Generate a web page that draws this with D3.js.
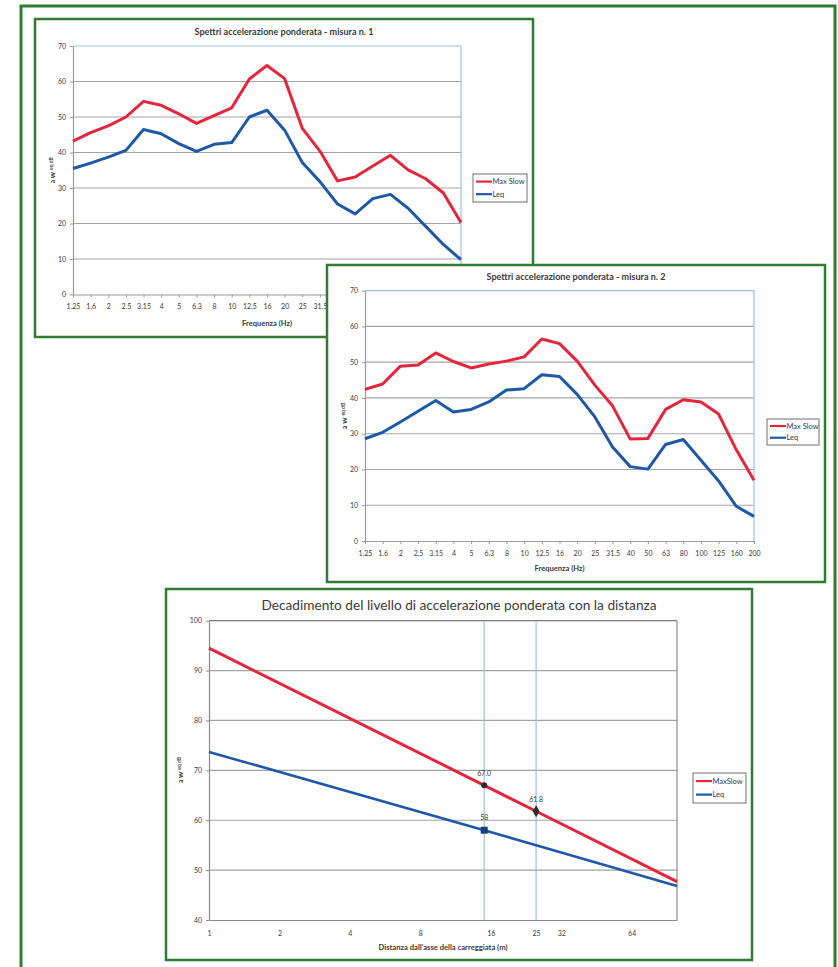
<!DOCTYPE html>
<html>
<head>
<meta charset="utf-8">
<script src="https://cdn.jsdelivr.net/npm/d3@7"></script>
<style>
  body { margin: 0; background: #fff; }
  text { font-family: Lato, "Open Sans", "Liberation Sans", sans-serif; fill: #3a3a3a; }
</style>
</head>
<body>
<script>
// Third-octave frequency bands (Hz)
const freqBands = ["1.25","1.6","2","2.5","3.15","4","5","6.3","8","10","12.5","16","20","25","31.5","40","50","63","80","100","125","160","200"];
const spectrumTicks = [0, 10, 20, 30, 40, 50, 60, 70];

// Measurement 1 spectra
const m1MaxSlow = [43.2, 45.6, 47.5, 50.0, 54.4, 53.3, 50.9, 48.2, 50.4, 52.6, 60.7, 64.5, 60.8, 46.8, 40.4, 32.0, 33.1, 36.2, 39.2, 35.1, 32.6, 28.6, 20.3];
const m1Leq     = [35.5, 37.0, 38.7, 40.6, 46.5, 45.3, 42.5, 40.3, 42.3, 42.8, 50.0, 51.9, 46.3, 37.2, 31.8, 25.5, 22.7, 27.0, 28.2, 24.3, 19.2, 14.1, 9.8];

// Measurement 2 spectra
const m2MaxSlow = [42.4, 43.9, 48.9, 49.2, 52.6, 50.2, 48.4, 49.5, 50.3, 51.5, 56.5, 55.2, 50.3, 43.6, 37.8, 28.5, 28.7, 36.8, 39.5, 38.9, 35.5, 25.5, 17.0];
const m2Leq     = [28.6, 30.4, 33.3, 36.3, 39.3, 36.1, 36.8, 38.9, 42.2, 42.6, 46.5, 46.0, 41.0, 34.7, 26.3, 20.8, 20.1, 27.0, 28.4, 22.6, 16.8, 9.7, 6.9];

// Decay with distance
const distances     = [1, 15, 25, 100];
const decayMaxSlow  = [94.5, 67.0, 61.8, 47.7];
const decayLeq      = [73.7, 58, 55.0, 46.8];
const decayTicks    = [40, 50, 60, 70, 80, 90, 100];
const distanceTicks = [1, 2, 4, 8, 16, 25, 32, 64];
const markerDistances = [15, 25];
const maxSlowLabels = ["67.0", "61.8"];
const leqLabels     = ["58"];

const RED = "#e3263b", BLUE = "#1f58a8", GREEN = "#2f7d34", GRID = "#a3a3a3", PLOTBLUE = "#9cc3dc";

const svg = d3.select("body").append("svg").attr("width", 838).attr("height", 967);
svg.append("rect").attr("width", 838).attr("height", 967).attr("fill", "#fff");

// outer page frame
svg.append("rect").attr("x", 21).attr("y", 6).attr("width", 814).attr("height", 975)
  .attr("fill", "none").attr("stroke", GREEN).attr("stroke-width", 3);

function yLabel(g, x, y) {
  const t = g.append("text").attr("transform", `translate(${x},${y}) rotate(-90)`)
    .attr("text-anchor", "middle").attr("font-size", 6.5).attr("font-weight", "bold");
  t.append("tspan").text("a");
  t.append("tspan").attr("font-size", 8).text(" w ");
  t.append("tspan").attr("dy", -2).attr("font-size", 5).text("eq dB");
}

function legend(g, x, y, w, h, names) {
  g.append("rect").attr("x", x).attr("y", y).attr("width", w).attr("height", h)
    .attr("fill", "#fff").attr("stroke", "#6e6e6e").attr("stroke-width", 1);
  const colors = [RED, BLUE];
  names.forEach((n, i) => {
    const cy = y + h * (i === 0 ? 0.27 : 0.72);
    g.append("line").attr("x1", x + 3).attr("x2", x + 19).attr("y1", cy).attr("y2", cy)
      .attr("stroke", colors[i]).attr("stroke-width", 2.2);
    g.append("text").attr("x", x + 19.5).attr("y", cy + 2.6).attr("font-size", 7.5).text(n);
  });
}

function drawSpectrum(cfg) {
  const g = svg.append("g");
  g.append("rect").attr("x", cfg.fx).attr("y", cfg.fy).attr("width", cfg.fw).attr("height", cfg.fh)
    .attr("fill", "#fff").attr("stroke", GREEN).attr("stroke-width", 2.5);

  const x = d3.scalePoint().domain(freqBands).range([cfg.x0, cfg.x1]);
  const y = d3.scaleLinear().domain([0, 70]).range([cfg.y0, cfg.y1]);

  // horizontal gridlines
  g.selectAll(".grid").data(spectrumTicks.filter(t => t > 0 && t < 70)).join("line")
    .attr("x1", cfg.x0).attr("x2", cfg.x1).attr("y1", d => y(d)).attr("y2", d => y(d))
    .attr("stroke", GRID).attr("stroke-width", 1.2);
  // plot-area border (top and right)
  g.append("path").attr("d", `M${cfg.x0},${y(70)}H${cfg.x1}V${y(0)}`)
    .attr("fill", "none").attr("stroke", PLOTBLUE).attr("stroke-width", 1.2);

  const ax = g.append("g").attr("transform", `translate(0,${y(0)})`)
    .call(d3.axisBottom(x).tickSize(3).tickPadding(7).tickSizeOuter(0));
  const ay = g.append("g").attr("transform", `translate(${cfg.x0},0)`)
    .call(d3.axisLeft(y).tickValues(spectrumTicks).tickSize(3).tickPadding(4).tickSizeOuter(0));
  [ax, ay].forEach(a => {
    a.select(".domain").attr("stroke", "#9a9a9a").attr("stroke-width", 1.2);
    a.selectAll(".tick line").attr("stroke", "#9a9a9a");
    a.selectAll(".tick text").attr("font-size", 7).attr("fill", "#444").attr("font-family", "Lato, sans-serif");
  });

  const line = d3.line().x((d, i) => x(freqBands[i])).y(d => y(d));
  g.append("path").datum(cfg.maxSlow).attr("d", line).attr("fill", "none")
    .attr("stroke", RED).attr("stroke-width", 3).attr("stroke-linejoin", "round");
  g.append("path").datum(cfg.leq).attr("d", line).attr("fill", "none")
    .attr("stroke", BLUE).attr("stroke-width", 3).attr("stroke-linejoin", "round");

  g.append("text").attr("x", cfg.fx + cfg.fw / 2).attr("y", cfg.titleY).attr("text-anchor", "middle")
    .attr("font-size", 8.5).attr("font-weight", "bold").attr("fill", "#222")
    .attr("textLength", 179).attr("lengthAdjust", "spacingAndGlyphs").text(cfg.title);
  g.append("text").attr("x", (cfg.x0 + cfg.x1) / 2).attr("y", cfg.xTitleY).attr("text-anchor", "middle")
    .attr("font-size", 7).attr("font-weight", "bold").attr("fill", "#333")
    .attr("textLength", 50).attr("lengthAdjust", "spacingAndGlyphs").text("Frequenza (Hz)");
  yLabel(g, cfg.yLabelX, (cfg.y0 + cfg.y1) / 2);
  legend(g, cfg.lx, cfg.ly, cfg.lw, cfg.lh, ["Max Slow", "Leq"]);
}

drawSpectrum({
  fx: 35, fy: 19, fw: 498, fh: 318,
  x0: 73, x1: 461, y0: 294.5, y1: 46,
  title: "Spettri accelerazione ponderata - misura n. 1", titleY: 35, xTitleY: 325.5, yLabelX: 55,
  lx: 473, ly: 174, lw: 54, lh: 28,
  maxSlow: m1MaxSlow, leq: m1Leq
});

drawSpectrum({
  fx: 327, fy: 265, fw: 498, fh: 317,
  x0: 365, x1: 754, y0: 541, y1: 290.7,
  title: "Spettri accelerazione ponderata - misura n. 2", titleY: 280, xTitleY: 571, yLabelX: 347,
  lx: 767, ly: 419, lw: 52, lh: 26,
  maxSlow: m2MaxSlow, leq: m2Leq
});

// Decay of weighted acceleration level with distance
(function drawDecay() {
  const g = svg.append("g");
  g.append("rect").attr("x", 166).attr("y", 589).attr("width", 586).attr("height", 371)
    .attr("fill", "#fff").attr("stroke", GREEN).attr("stroke-width", 2.5);

  const x = d3.scaleLog().base(2).domain([1, 100]).range([209, 677]);
  const y = d3.scaleLinear().domain([40, 100]).range([920, 620.7]);

  g.selectAll(".grid").data(decayTicks.filter(t => t > 40)).join("line")
    .attr("x1", x(1)).attr("x2", x(100)).attr("y1", d => y(d)).attr("y2", d => y(d))
    .attr("stroke", d => d === 100 ? "#777" : GRID).attr("stroke-width", 1.2);
  g.append("line").attr("x1", x(100)).attr("x2", x(100)).attr("y1", y(100)).attr("y2", y(40))
    .attr("stroke", "#8a8a8a").attr("stroke-width", 1.2);
  // reference distances
  g.selectAll(".ref").data(markerDistances).join("line")
    .attr("x1", d => x(d)).attr("x2", d => x(d)).attr("y1", y(100)).attr("y2", y(40))
    .attr("stroke", PLOTBLUE).attr("stroke-width", 1.2);

  const ax = g.append("g").attr("transform", `translate(0,${y(40)})`)
    .call(d3.axisBottom(x).tickValues(distanceTicks).tickFormat(d => d).tickSize(0).tickPadding(11).tickSizeOuter(0));
  const ay = g.append("g").attr("transform", `translate(${x(1)},0)`)
    .call(d3.axisLeft(y).tickValues(decayTicks).tickSize(3).tickPadding(4).tickSizeOuter(0));
  [ax, ay].forEach(a => {
    a.select(".domain").attr("stroke", "#8a8a8a").attr("stroke-width", 1.2);
    a.selectAll(".tick line").attr("stroke", "#8a8a8a");
    a.selectAll(".tick text").attr("font-size", 7).attr("fill", "#444").attr("font-family", "Lato, sans-serif");
  });

  const line = d3.line().x((d, i) => x(distances[i])).y(d => y(d));
  g.append("path").datum(decayLeq).attr("d", line).attr("fill", "none")
    .attr("stroke", BLUE).attr("stroke-width", 2.6);
  g.append("path").datum(decayMaxSlow).attr("d", line).attr("fill", "none")
    .attr("stroke", RED).attr("stroke-width", 3);

  // labelled points
  const redPts = markerDistances.map(d => ({ d, v: decayMaxSlow[distances.indexOf(d)] }));
  g.append("circle").attr("cx", x(redPts[0].d)).attr("cy", y(redPts[0].v)).attr("r", 3).attr("fill", "#2a2a2a");
  g.append("path").attr("d", d3.symbol(d3.symbolDiamond, 40)())
    .attr("transform", `translate(${x(redPts[1].d)},${y(redPts[1].v)})`).attr("fill", "#2a2a2a");
  redPts.forEach((p, i) => {
    g.append("text").attr("x", x(p.d)).attr("y", y(p.v) - 9).attr("text-anchor", "middle")
      .attr("font-size", 7).attr("fill", "#444").text(maxSlowLabels[i]);
  });
  const leqVal = decayLeq[distances.indexOf(15)];
  g.append("rect").attr("x", x(15) - 3.5).attr("y", y(leqVal) - 3.5).attr("width", 7).attr("height", 7)
    .attr("fill", "#1c3f78");
  g.append("text").attr("x", x(15)).attr("y", y(leqVal) - 10).attr("text-anchor", "middle")
    .attr("font-size", 7).attr("fill", "#444").text(leqLabels[0]);

  g.append("text").attr("x", 459).attr("y", 610).attr("text-anchor", "middle")
    .attr("font-size", 14).attr("fill", "#222")
    .attr("textLength", 395).attr("lengthAdjust", "spacingAndGlyphs")
    .text("Decadimento del livello di accelerazione ponderata con la distanza");
  g.append("text").attr("x", 443).attr("y", 950).attr("text-anchor", "middle")
    .attr("font-size", 6.5).attr("font-weight", "bold").attr("fill", "#333")
    .attr("textLength", 129).attr("lengthAdjust", "spacingAndGlyphs")
    .text("Distanza dall'asse della carreggiata (m)");
  yLabel(g, 183, 770);
  legend(g, 693, 773, 53, 30, ["MaxSlow", "Leq"]);
})();
</script>
</body>
</html>
